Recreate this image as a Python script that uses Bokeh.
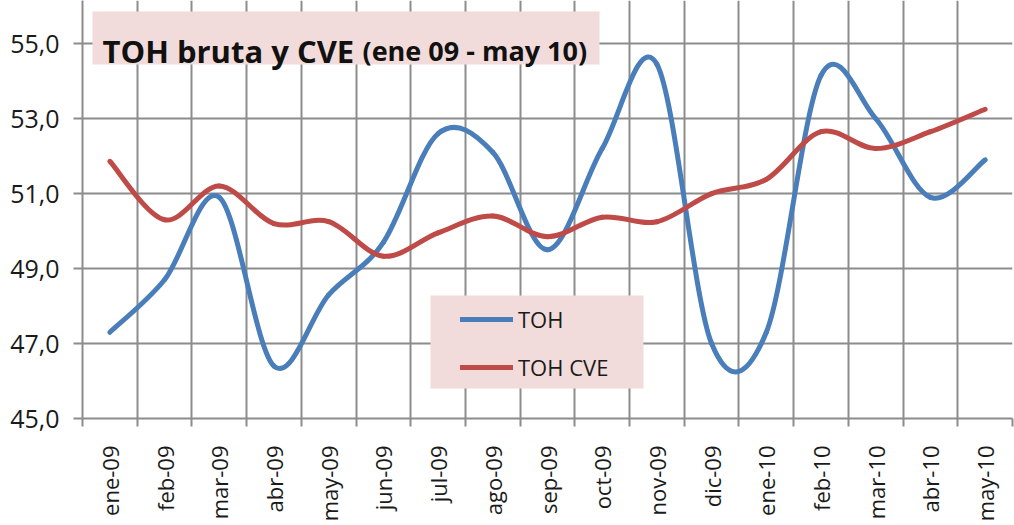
import math
from bokeh.plotting import figure
from bokeh.models import (Range1d, FixedTicker, Legend, LegendItem, BoxAnnotation,
                          Label, ColumnDataSource)
from bokeh.embed import file_html
from bokeh.resources import INLINE

# ---------------- data ----------------
months = ["ene-09", "feb-09", "mar-09", "abr-09", "may-09", "jun-09", "jul-09",
          "ago-09", "sep-09", "oct-09", "nov-09", "dic-09", "ene-10", "feb-10",
          "mar-10", "abr-10", "may-10"]
toh = [47.3, 48.7, 50.9, 46.4, 48.3, 49.7, 52.6, 52.1, 49.5, 52.2, 54.45,
       47.0, 47.3, 54.15, 53.0, 50.9, 51.9]
toh_cve = [51.86, 50.3, 51.2, 50.2, 50.25, 49.33, 49.95, 50.4, 49.85, 50.37,
           50.25, 51.0, 51.38, 52.65, 52.2, 52.65, 53.25]
y_ticks = [45, 47, 49, 51, 53, 55]
y_tick_labels = ["45,0", "47,0", "49,0", "51,0", "53,0", "55,0"]
series_names = ["TOH", "TOH CVE"]
title_main = "TOH bruta y CVE"
title_sub = "(ene 09 - may 10)"

BLUE = "#4a7ebb"
RED = "#be4b48"
GRID = "#8c8c8c"
PINK = "#f2dcdb"
FONT = "Open Sans"


def smooth_source(ys, k=1.0 / 6.0):
    n = len(ys)
    xs = list(range(n))
    d = {key: [] for key in ["x0", "y0", "x1", "y1", "cx0", "cy0", "cx1", "cy1"]}
    for i in range(n - 1):
        a = i - 1 if i > 0 else i
        b = i + 2 if i + 2 < n else i + 1
        d["x0"].append(xs[i]); d["y0"].append(ys[i])
        d["x1"].append(xs[i + 1]); d["y1"].append(ys[i + 1])
        d["cx0"].append(xs[i] + (xs[i + 1] - xs[a]) * k)
        d["cy0"].append(ys[i] + (ys[i + 1] - ys[a]) * k)
        d["cx1"].append(xs[i + 1] - (xs[b] - xs[i]) * k)
        d["cy1"].append(ys[i + 1] - (ys[b] - ys[i]) * k)
    return ColumnDataSource(d)


n = len(months)
p = figure(width=1014, height=525,
           x_range=Range1d(-0.5, n - 0.5), y_range=Range1d(45, 56.15),
           min_border_left=82, min_border_right=2, min_border_top=0,
           min_border_bottom=107, output_backend="svg", toolbar_location=None)
p.outline_line_color = None
p.background_fill_color = "white"
p.border_fill_color = "white"

# ---- x axis ----
xa = p.xaxis[0]
xa.ticker = FixedTicker(ticks=list(range(n)),
                        minor_ticks=[i - 0.5 for i in range(n + 1)])
xa.major_label_overrides = {i: m for i, m in enumerate(months)}
xa.major_label_orientation = math.pi / 2
xa.major_label_text_font = FONT
xa.major_label_text_font_size = "22px"
xa.major_label_text_color = "#1a1a1a"
xa.major_label_standoff = 19
xa.major_tick_line_color = None
xa.major_tick_out = 8
xa.major_tick_in = 0
xa.minor_tick_line_color = GRID
xa.minor_tick_line_width = 2
xa.minor_tick_out = 8
xa.minor_tick_in = 0
xa.axis_line_color = GRID
xa.axis_line_width = 2

# ---- y axis ----
ya = p.yaxis[0]
ya.ticker = FixedTicker(ticks=y_ticks)
ya.major_label_overrides = {t: l for t, l in zip(y_ticks, y_tick_labels)}
ya.major_label_text_font = FONT
ya.major_label_text_font_size = "25px"
ya.major_label_text_color = "#1a1a1a"
ya.major_label_standoff = 14
ya.major_tick_line_color = GRID
ya.major_tick_line_width = 2
ya.major_tick_out = 9
ya.major_tick_in = 0
ya.minor_tick_line_color = None
ya.axis_line_color = GRID
ya.axis_line_width = 2

# ---- grids ----
p.xgrid.grid_line_color = None
p.xgrid.minor_grid_line_color = GRID
p.xgrid.minor_grid_line_width = 2
p.ygrid.grid_line_color = GRID
p.ygrid.grid_line_width = 2

# ---- smoothed lines ----
r_toh = p.bezier(x0="x0", y0="y0", x1="x1", y1="y1", cx0="cx0", cy0="cy0",
                 cx1="cx1", cy1="cy1", source=smooth_source(toh),
                 line_color=BLUE, line_width=5, line_cap="round")
r_cve = p.bezier(x0="x0", y0="y0", x1="x1", y1="y1", cx0="cx0", cy0="cy0",
                 cx1="cx1", cy1="cy1", source=smooth_source(toh_cve),
                 line_color=RED, line_width=5, line_cap="round")

# ---- decorative boxes (screen units, frame relative) ----
title_box = BoxAnnotation(left=10, right=517, top=407, bottom=354,
                          left_units="screen", right_units="screen",
                          top_units="screen", bottom_units="screen",
                          fill_color=PINK, fill_alpha=1, line_color=None)
legend_box = BoxAnnotation(left=348, right=561, top=123, bottom=30,
                           left_units="screen", right_units="screen",
                           top_units="screen", bottom_units="screen",
                           fill_color=PINK, fill_alpha=1, line_color=None)
p.add_layout(title_box)
p.add_layout(legend_box)

# light-blue strip of a text box below the chart (cut off by the picture)
note_box = BoxAnnotation(left=312, right=783, top=513, bottom=525,
                         left_units="canvas", right_units="canvas",
                         top_units="canvas", bottom_units="canvas",
                         fill_color="#dbeef4", fill_alpha=1, line_color=None)
p.add_layout(note_box)

legend = Legend(items=[LegendItem(label=series_names[0], renderers=[r_toh]),
                       LegendItem(label=series_names[1], renderers=[r_cve])],
                location=(378, 36), padding=0, margin=0, spacing=18,
                glyph_width=53, glyph_height=30, label_height=30,
                label_standoff=5, label_text_font=FONT,
                label_text_font_size="22px", label_text_color="#1a1a1a",
                background_fill_alpha=0, border_line_color=None)
p.add_layout(legend)

p.add_layout(Label(x=20, y=368, x_units="screen", y_units="screen",
                   text=title_main, text_font=FONT, text_font_style="bold",
                   text_font_size="31px", text_color="#111111",
                   text_baseline="alphabetic"))
p.add_layout(Label(x=280, y=368, x_units="screen", y_units="screen",
                   text=title_sub, text_font=FONT, text_font_style="bold",
                   text_font_size="27px", text_color="#111111",
                   text_baseline="alphabetic"))

open("out.html", "w").write(file_html(p, INLINE))
